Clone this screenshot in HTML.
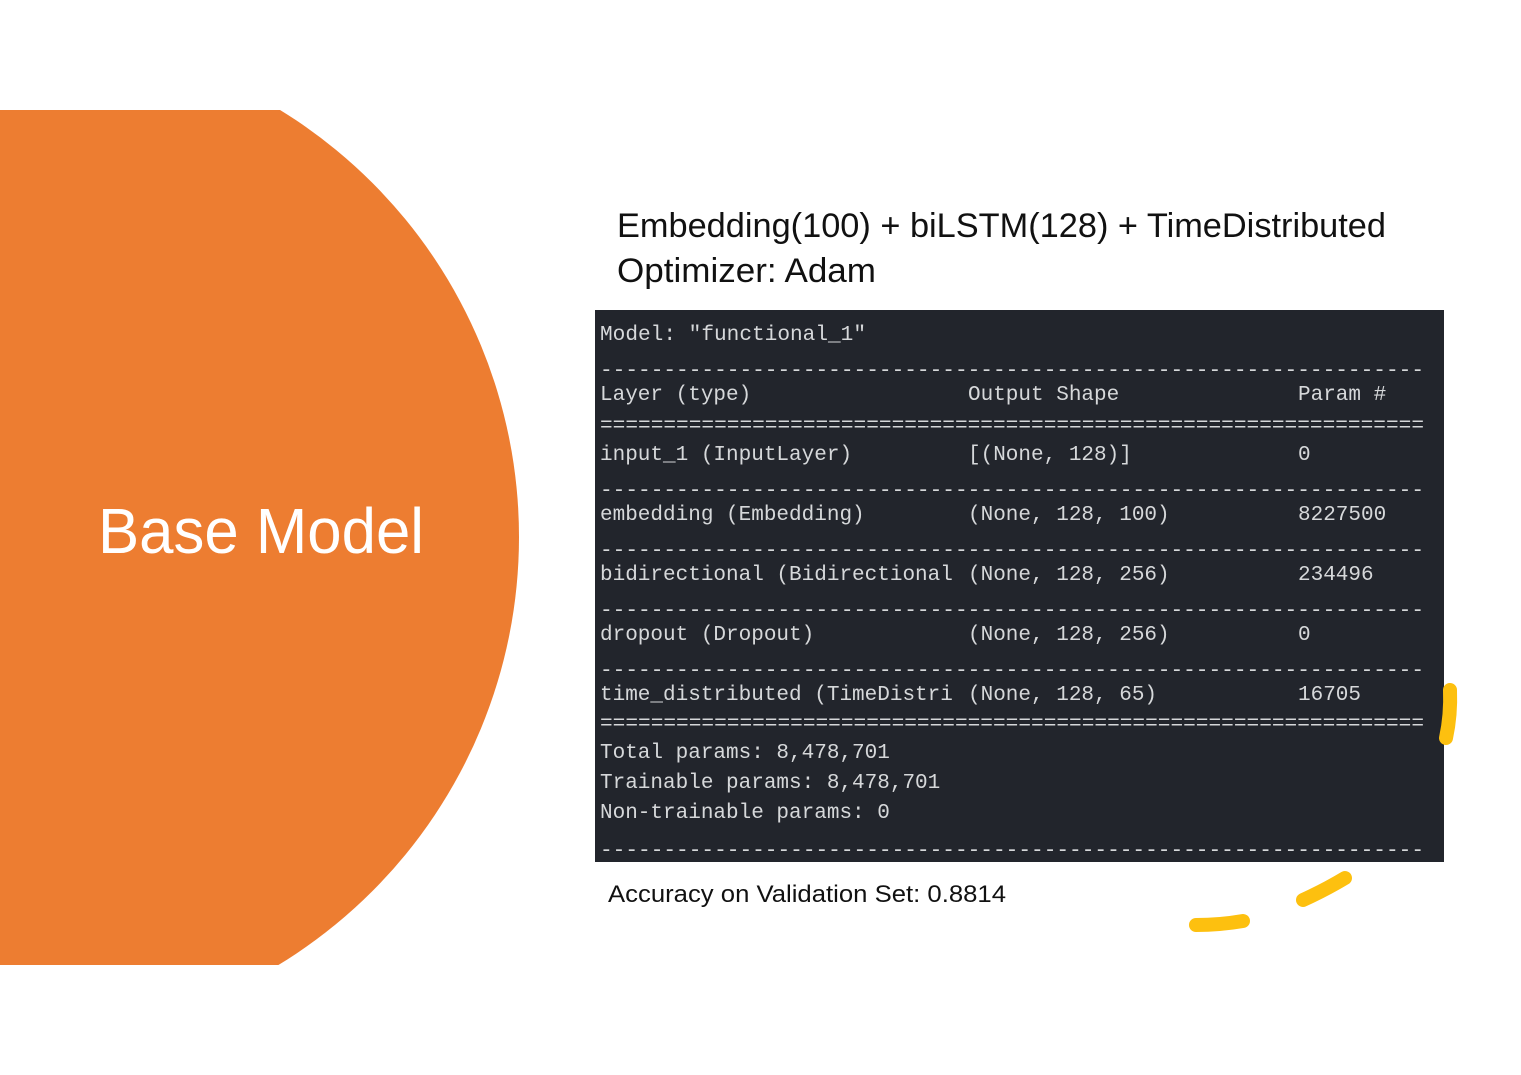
<!DOCTYPE html>
<html><head><meta charset="utf-8"><style>
html,body{margin:0;padding:0;background:#fff;}
svg{display:block}
.m{font-family:"Liberation Mono","DejaVu Sans Mono",monospace;font-size:21px;fill:#d6d8da;}
.s{font-family:"Liberation Sans",sans-serif;}
</style></head><body>
<svg width="1521" height="1075" viewBox="0 0 1521 1075" xmlns="http://www.w3.org/2000/svg">
<defs><clipPath id="c"><rect x="0" y="110" width="600" height="855"/></clipPath></defs>
<circle cx="18" cy="537" r="501" fill="#ed7d31" clip-path="url(#c)"/>
<text x="98" y="553" class="s" font-size="64" fill="#fff" textLength="326" lengthAdjust="spacingAndGlyphs">Base Model</text>
<text x="617" y="237" class="s" font-size="34" fill="#111" textLength="769" lengthAdjust="spacingAndGlyphs">Embedding(100) + biLSTM(128) + TimeDistributed</text>
<text x="617" y="282" class="s" font-size="34" fill="#111" textLength="259" lengthAdjust="spacingAndGlyphs">Optimizer: Adam</text>
<rect x="595" y="310" width="849" height="552" fill="#22252c"/>
<g class="m">
<text x="600" y="340" textLength="266" lengthAdjust="spacingAndGlyphs">Model: "functional_1"</text>
<text x="600" y="376" textLength="824" lengthAdjust="spacingAndGlyphs">-----------------------------------------------------------------</text>
<text x="600" y="400">Layer (type)</text><text x="968" y="400">Output Shape</text><text x="1298" y="400">Param #</text>
<text x="600" y="431" textLength="824" lengthAdjust="spacingAndGlyphs">=================================================================</text>
<text x="600" y="460">input_1 (InputLayer)</text><text x="968" y="460">[(None, 128)]</text><text x="1298" y="460">0</text>
<text x="600" y="496" textLength="824" lengthAdjust="spacingAndGlyphs">-----------------------------------------------------------------</text>
<text x="600" y="520">embedding (Embedding)</text><text x="968" y="520">(None, 128, 100)</text><text x="1298" y="520">8227500</text>
<text x="600" y="556" textLength="824" lengthAdjust="spacingAndGlyphs">-----------------------------------------------------------------</text>
<text x="600" y="580">bidirectional (Bidirectional</text><text x="968" y="580">(None, 128, 256)</text><text x="1298" y="580">234496</text>
<text x="600" y="616" textLength="824" lengthAdjust="spacingAndGlyphs">-----------------------------------------------------------------</text>
<text x="600" y="640">dropout (Dropout)</text><text x="968" y="640">(None, 128, 256)</text><text x="1298" y="640">0</text>
<text x="600" y="676" textLength="824" lengthAdjust="spacingAndGlyphs">-----------------------------------------------------------------</text>
<text x="600" y="700">time_distributed (TimeDistri</text><text x="968" y="700">(None, 128, 65)</text><text x="1298" y="700">16705</text>
<text x="600" y="729" textLength="824" lengthAdjust="spacingAndGlyphs">=================================================================</text>
<text x="600" y="758">Total params: 8,478,701</text>
<text x="600" y="788">Trainable params: 8,478,701</text>
<text x="600" y="818">Non-trainable params: 0</text>
<text x="600" y="856" textLength="824" lengthAdjust="spacingAndGlyphs">-----------------------------------------------------------------</text>
</g>
<text x="608" y="902" class="s" font-size="24" fill="#111" textLength="398" lengthAdjust="spacingAndGlyphs">Accuracy on Validation Set: 0.8814</text>
<g stroke="#fdc00f" stroke-width="14" stroke-linecap="round" fill="none">
<path d="M1196 925 Q1220 925 1243 921"/>
<path d="M1303 900 Q1325 890 1345 878"/>
<path d="M1450 690 Q1451 715 1446 738"/>
</g>
<rect x="1444" y="680" width="30" height="70" fill="none"/>
</svg>
</body></html>
